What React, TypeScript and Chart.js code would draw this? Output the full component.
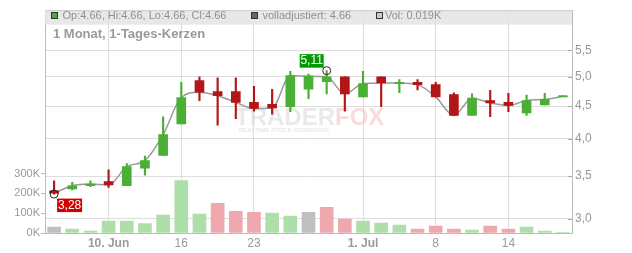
import React, { useEffect, useRef } from 'react';
import { Chart, registerables } from 'chart.js';
Chart.register(...registerables);

const FONT = '"Liberation Sans", Arial, sans-serif';

const xLabels = ['', '', '', '10. Jun', '', '', '', '16', '', '', '', '23', '', '', '', '', '', '1. Jul', '', '', '', '8', '', '', '', '14', '', '', ''];
const opens = [3.32, 3.34, 3.38, 3.43, 3.38, 3.60, 3.77, 4.22, 4.93, 4.74, 4.74, 4.56, 4.53, 4.49, 4.78, 4.91, 5.00, 4.65, 5.00, 4.89, 4.90, 4.86, 4.69, 4.35, 4.59, 4.56, 4.39, 4.52, 4.66];
const highs = [3.44, 3.42, 3.44, 3.58, 3.66, 3.76, 4.33, 4.90, 5.00, 4.98, 4.98, 4.83, 4.78, 5.10, 5.05, 5.11, 5.00, 5.10, 5.00, 4.95, 4.95, 4.90, 4.72, 4.70, 4.76, 4.71, 4.68, 4.71, 4.66];
const lows = [3.28, 3.33, 3.37, 3.36, 3.38, 3.51, 3.77, 4.22, 4.59, 4.20, 4.30, 4.42, 4.37, 4.41, 4.62, 4.70, 4.42, 4.65, 4.49, 4.72, 4.77, 4.65, 4.35, 4.35, 4.33, 4.41, 4.35, 4.52, 4.66];
const closes = [3.29, 3.38, 3.40, 3.39, 3.62, 3.70, 4.06, 4.64, 4.73, 4.67, 4.56, 4.46, 4.47, 5.02, 5.01, 5.00, 4.70, 4.88, 4.89, 4.89, 4.86, 4.65, 4.35, 4.63, 4.55, 4.51, 4.59, 4.61, 4.66];
const volumes = [30000, 20000, 10000, 60000, 60000, 47000, 90000, 265000, 95000, 150000, 110000, 105000, 100000, 85000, 105000, 130000, 70000, 60000, 50000, 40000, 20000, 35000, 20000, 15000, 35000, 20000, 30000, 10000, 19];
const volumeTone = ['n', 'g', 'g', 'g', 'g', 'g', 'g', 'g', 'g', 'r', 'r', 'r', 'g', 'g', 'n', 'r', 'r', 'g', 'g', 'g', 'r', 'r', 'r', 'g', 'r', 'r', 'g', 'g', 'g'];
const priceTicks = [3, 3.5, 4, 4.5, 5, 5.5];
const volumeTicks = [0, 100000, 200000, 300000];

const GREEN = '#4aaf34';
const RED = '#b31616';
const candleColors = closes.map((c, i) => (c >= opens[i] ? GREEN : RED));
const volColors = volumeTone.map((t) => (t === 'g' ? '#aedea9' : t === 'r' ? '#eea8ae' : '#bfbfbf'));

const fmtComma = (v: number, d: number) => v.toFixed(d).replace('.', ',');

const overlayPlugin = {
  id: 'overlay',
  beforeDatasetsDraw(chart: any) {
    const { ctx } = chart;
    ctx.save();
    ctx.textBaseline = 'alphabetic';
    ctx.font = `bold 24px ${FONT}`;
    ctx.fillStyle = 'rgba(215,215,215,0.55)';
    ctx.fillText('TRADER', 235, 125);
    const w = ctx.measureText('TRADER').width;
    ctx.fillStyle = 'rgba(245,190,190,0.55)';
    ctx.fillText('FOX', 235 + w, 125);
    ctx.font = `bold 6px ${FONT}`;
    ctx.fillStyle = 'rgba(215,215,215,0.6)';
    ctx.fillText('REALTIME STOCK SCREENING', 239, 132, 91);
    ctx.restore();
  },
  afterDatasetsDraw(chart: any) {
    const { ctx, chartArea: a } = chart;
    const xs = chart.scales.x;
    const ys = chart.scales.y;
    ctx.save();
    // price axis inner ticks
    ctx.strokeStyle = '#aaaaaa';
    ctx.lineWidth = 1;
    priceTicks.forEach((v) => {
      const y = Math.round(ys.getPixelForValue(v)) + 0.5;
      ctx.beginPath();
      ctx.moveTo(a.right - 4, y);
      ctx.lineTo(a.right, y);
      ctx.stroke();
    });
    // max / min markers
    let hi = 0;
    let lo = 0;
    highs.forEach((v, i) => { if (v > highs[hi]) hi = i; });
    lows.forEach((v, i) => { if (v < lows[lo]) lo = i; });
    ctx.font = `12px ${FONT}`;
    ctx.textAlign = 'center';
    ctx.textBaseline = 'middle';
    // high
    {
      const cx = xs.getPixelForValue(hi);
      const cy = ys.getPixelForValue(highs[hi]);
      ctx.fillStyle = '#009a00';
      ctx.fillRect(cx - 27, cy - 16.5, 24, 13.5);
      ctx.fillStyle = '#ffffff';
      ctx.fillText(fmtComma(highs[hi], 2), cx - 15, cy - 9.5);
      ctx.strokeStyle = '#222';
      ctx.beginPath();
      ctx.arc(cx, cy, 4, 0, Math.PI * 2);
      ctx.stroke();
    }
    // low
    {
      const cx = xs.getPixelForValue(lo);
      const cy = ys.getPixelForValue(lows[lo]);
      ctx.fillStyle = '#d40000';
      ctx.fillRect(cx + 3, cy + 4.5, 25, 13.5);
      ctx.fillStyle = '#ffffff';
      ctx.fillText(fmtComma(lows[lo], 2), cx + 15.5, cy + 11.5);
      ctx.strokeStyle = '#222';
      ctx.beginPath();
      ctx.arc(cx, cy, 4, 0, Math.PI * 2);
      ctx.stroke();
    }
    ctx.restore();
  },
  afterDraw(chart: any) {
    const { ctx, chartArea: a } = chart;
    const last = closes.length - 1;
    ctx.save();
    // header strip
    ctx.fillStyle = 'rgba(228,228,228,0.85)';
    ctx.fillRect(a.left, a.top, a.right - a.left, 14.5);
    ctx.strokeStyle = '#cccccc';
    ctx.lineWidth = 1;
    ctx.beginPath();
    ctx.moveTo(a.left, a.top + 0.5);
    ctx.lineTo(a.right, a.top + 0.5);
    ctx.stroke();
    const sq = (x: number, fill: string) => {
      ctx.fillStyle = fill;
      ctx.fillRect(x, 12, 6, 6);
      ctx.strokeStyle = '#333';
      ctx.strokeRect(x + 0.5, 12.5, 6, 6);
    };
    ctx.font = `11px ${FONT}`;
    ctx.textBaseline = 'middle';
    ctx.textAlign = 'left';
    sq(51, GREEN);
    ctx.fillStyle = '#909090';
    ctx.fillText(`Op:${opens[last].toFixed(2)}, Hi:${highs[last].toFixed(2)}, Lo:${lows[last].toFixed(2)}, Cl:${closes[last].toFixed(2)}`, 62.5, 16);
    sq(251, '#666666');
    ctx.fillStyle = '#909090';
    ctx.fillText(`volladjustiert: ${closes[last].toFixed(2)}`, 262.5, 16);
    sq(376, '#b0e0a8');
    ctx.fillStyle = '#909090';
    ctx.fillText(`Vol: ${(volumes[last] / 1000).toFixed(3)}K`, 385, 16);
    ctx.font = `bold 13px ${FONT}`;
    ctx.fillStyle = '#999999';
    ctx.fillText('1 Monat, 1-Tages-Kerzen', 53, 34);
    ctx.restore();
  },
};

export default function App() {
  const ref = useRef<HTMLCanvasElement | null>(null);
  useEffect(() => {
    if (!ref.current) return;
    const chart = new Chart(ref.current, {
      type: 'bar',
      data: {
        labels: xLabels,
        datasets: [
          {
            type: 'bar',
            label: 'Volumen',
            yAxisID: 'yv',
            data: volumes,
            backgroundColor: volColors,
            barThickness: 13,
            grouped: false,
            order: 10,
          } as any,
          {
            type: 'line',
            label: 'Schluss',
            yAxisID: 'y',
            data: closes,
            borderColor: '#999999',
            borderWidth: 1.5,
            pointRadius: 0,
            cubicInterpolationMode: 'monotone',
            order: 6,
          } as any,
          {
            type: 'bar',
            label: 'Docht',
            yAxisID: 'y',
            data: lows.map((l, i) => [l, highs[i]]),
            backgroundColor: candleColors,
            barThickness: 1.5,
            grouped: false,
            order: 4,
          } as any,
          {
            type: 'bar',
            label: 'Kerze',
            yAxisID: 'y',
            data: opens.map((o, i) => [o, closes[i]]),
            backgroundColor: candleColors,
            barThickness: 9,
            grouped: false,
            order: 3,
          } as any,
          {
            type: 'line',
            label: 'Doji',
            yAxisID: 'y',
            data: opens.map((o, i) => (o === closes[i] ? o : null)),
            showLine: false,
            pointStyle: 'line',
            pointRadius: 4.5,
            pointBorderWidth: 2,
            pointBorderColor: candleColors,
            borderColor: candleColors,
            order: 2,
          } as any,
        ],
      },
      options: {
        responsive: false,
        devicePixelRatio: 1,
        animation: false,
        layout: { padding: { top: 8, left: 0, right: 0, bottom: 0 } },
        plugins: { legend: { display: false }, tooltip: { enabled: false } },
        scales: {
          x: {
            type: 'category',
            offset: true,
            grid: {
              offset: false,
              drawTicks: false,
              color: (c: any) => (xLabels[c.index] ? '#dddddd' : 'rgba(0,0,0,0)'),
            },
            border: { display: true, color: '#bbbbbb' },
            ticks: {
              autoSkip: false,
              maxRotation: 0,
              padding: 3,
              color: '#999999',
              font: (c: any) => ({
                family: FONT,
                size: 12,
                weight: String(xLabels[c.index] || '').includes('.') ? 'bold' : 'normal',
              }),
            },
            afterFit: (s: any) => { s.height = 20; },
          },
          y: {
            type: 'logarithmic',
            position: 'right',
            min: 2.852,
            max: 6.35,
            grid: { color: '#dddddd', drawTicks: false },
            border: { display: true, color: '#bbbbbb' },
            afterBuildTicks: (s: any) => { s.ticks = priceTicks.map((v) => ({ value: v })); },
            ticks: {
              padding: 3,
              color: '#999999',
              font: { family: FONT, size: 12 },
              callback: (v: any) => fmtComma(Number(v), 1),
            },
            afterFit: (s: any) => { s.width = 60; },
          },
          yv: {
            type: 'linear',
            position: 'left',
            min: 0,
            max: 1125000,
            grid: { drawOnChartArea: false, drawTicks: true, tickLength: 4, tickColor: '#bbbbbb' },
            border: { display: true, color: '#bbbbbb' },
            afterBuildTicks: (s: any) => { s.ticks = volumeTicks.map((v) => ({ value: v })); },
            ticks: {
              padding: 1,
              color: '#999999',
              font: { family: FONT, size: 11 },
              callback: (v: any) => `${Math.round(Number(v) / 1000)}K`,
            },
            afterFit: (s: any) => { s.width = 45; },
          },
        },
      },
      plugins: [overlayPlugin],
    } as any);
    return () => chart.destroy();
  }, []);
  return (
    <div style={{ position: 'fixed', left: 0, top: 0, width: 632, height: 253, background: '#fff' }}>
      <canvas ref={ref} width={632} height={253} style={{ display: 'block' }} />
    </div>
  );
}
